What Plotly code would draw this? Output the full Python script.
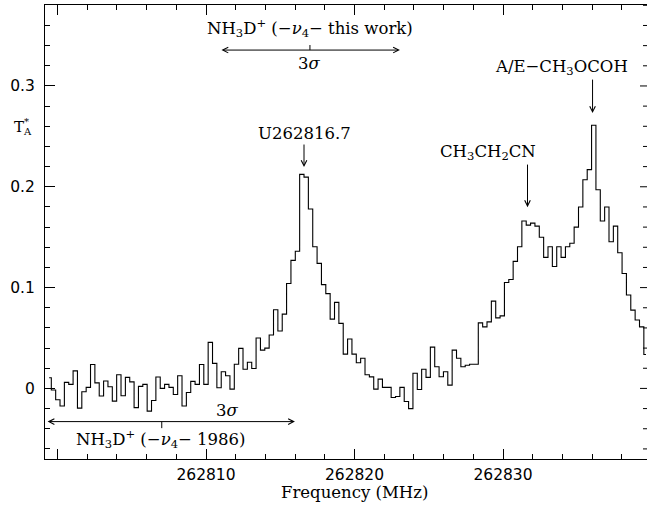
import numpy as np
import plotly.graph_objects as go

# ---------------- data ----------------
FREQ_FIRST_MHZ = 262799.436      # centre of first (partly visible) channel
CHANNEL_WIDTH_MHZ = 0.2934
TA = [
    0.0106, -0.0015, -0.0113, -0.0175, 0.0060, 0.0040, 0.0174, -0.0195, -0.0033, 0.0010,
    0.0238, 0.0055, -0.0075, 0.0073, 0.0017, -0.0126, 0.0135, -0.0073, 0.0110, 0.0065,
    -0.0190, 0.0020, 0.0040, -0.0225, -0.0120, 0.0113, 0.0000, 0.0040, 0.0010, -0.0060,
    0.0126, -0.0175, -0.0040, 0.0070, 0.0040, 0.0238, 0.0040, 0.0457, 0.0248, 0.0007,
    0.0165, 0.0125, -0.0007, 0.0240, 0.0397, 0.0190, 0.0260, 0.0198, 0.0500, 0.0380,
    0.0400, 0.0530, 0.0780, 0.0570, 0.0737, 0.1040, 0.1270, 0.1360, 0.2123, 0.2096,
    0.1780, 0.1405, 0.1240, 0.1030, 0.0940, 0.0687, 0.0853, 0.0645, 0.0340, 0.0490,
    0.0340, 0.0254, 0.0300, 0.0135, 0.0115, -0.0007, 0.0092, 0.0010, 0.0010, -0.0090,
    -0.0080, 0.0010, -0.0130, -0.0200, 0.0150, -0.0010, 0.0190, 0.0110, 0.0410, 0.0215,
    0.0116, 0.0165, 0.0033, 0.0380, 0.0300, 0.0215, 0.0230, 0.0240, 0.0240, 0.0650,
    0.0610, 0.0660, 0.0866, 0.0700, 0.0720, 0.1050, 0.1080, 0.1260, 0.1405, 0.1660,
    0.1620, 0.1640, 0.1610, 0.1500, 0.1300, 0.1405, 0.1210, 0.1405, 0.1300, 0.1405,
    0.1440, 0.1600, 0.1800, 0.2070, 0.2170, 0.2610, 0.1970, 0.1660, 0.1800, 0.1455,
    0.1610, 0.1346, 0.1140, 0.0926, 0.0777, 0.0678, 0.0610, 0.0337,
]
freq = FREQ_FIRST_MHZ + CHANNEL_WIDTH_MHZ * np.arange(len(TA))

X_TICK_VALUES = [262800, 262810, 262820, 262830]
X_TICK_LABELS = ["", "262810", "262820", "262830"]
Y_TICK_VALUES = [0, 0.1, 0.2, 0.3]
Y_TICK_LABELS = ["0", "0.1", "0.2", "0.3"]

LINE_LABELS = [
    "NH<sub>3</sub>D<sup>+</sup> (\u2212<i>\u03bd</i><sub>4</sub>\u2212 this work)",
    "3<i>\u03c3</i>",
    "U262816.7",
    "CH<sub>3</sub>CH<sub>2</sub>CN",
    "A/E\u2212CH<sub>3</sub>OCOH",
    "3<i>\u03c3</i>",
    "NH<sub>3</sub>D<sup>+</sup> (\u2212<i>\u03bd</i><sub>4</sub>\u2212 1986)",
]

# ---------------- layout / positions ----------------
W, H = 647, 507
ML, MR, MT, MB = 45, 0, 5, 48
X_RANGE = [262799.158, 262839.697]
Y_RANGE = [-0.0700, 0.3803]
Y_MINOR_STEP = 0.02

LABEL_POS = [
    (262817.00, 0.3570),
    (262816.94, 0.3227),
    (262816.63, 0.2533),
    (262828.96, 0.2344),
    (262833.97, 0.3188),
    (262811.45, -0.0215),
    (262806.97, -0.0503),
]
ARROWS = [  # (x, y_tail, y_tip)
    (262816.60, 0.2434, 0.2196),
    (262831.65, 0.2235, 0.1798),
    (262836.03, 0.3078, 0.2731),
]
DOUBLE_ARROWS = [  # (x_start, x_end, y)
    (262810.94, 262823.06, 0.3356),
    (262799.23, 262815.99, -0.0329),
]
CENTRE_TICKS = [  # (x, y0, y1)
    (262817.00, 0.3356, 0.3406),
    (262807.02, -0.0329, -0.0394),
]

SERIF = "DejaVu Serif"
SANS = "DejaVu Sans"
SERIF_SIZE = 16.5


def px_to_paper(px, py):
    return (px - ML) / (W - ML - MR), (H - MB - py) / (H - MT - MB)


fig = go.Figure()
fig.add_trace(go.Scatter(
    x=freq, y=TA, mode="lines",
    line=dict(shape="hvh", color="black", width=1.1),
    hoverinfo="skip", showlegend=False,
))

annotations = []
for text, (x, y) in zip(LINE_LABELS, LABEL_POS):
    annotations.append(dict(
        x=x, y=y, xref="x", yref="y", text=text, showarrow=False,
        xanchor="center", yanchor="middle",
        font=dict(family=SERIF, size=SERIF_SIZE, color="black"),
    ))
for x, y0, y1 in ARROWS:
    annotations.append(dict(
        x=x, y=y1, ax=x, ay=y0, xref="x", yref="y", axref="x", ayref="y",
        text="", showarrow=True, arrowhead=5, arrowsize=1.1, arrowwidth=1,
        arrowcolor="black", standoff=0,
    ))
for x0, x1, y in DOUBLE_ARROWS:
    annotations.append(dict(
        x=x1, y=y, ax=x0, ay=y, xref="x", yref="y", axref="x", ayref="y",
        text="", showarrow=True, arrowhead=5, startarrowhead=5,
        arrowside="end+start", arrowsize=1.1, startarrowsize=1.1, arrowwidth=1,
        arrowcolor="black", standoff=0, startstandoff=0,
    ))

# y-axis title T*_A built from pieces
for text, (px, py), size in [("T", (18.5, 127), 15), ("*", (26, 121), 10), ("A", (27.5, 131), 10)]:
    xp, yp = px_to_paper(px, py)
    annotations.append(dict(
        x=xp, y=yp, xref="paper", yref="paper", text=text, showarrow=False,
        xanchor="center", yanchor="middle",
        font=dict(family=SERIF, size=size, color="black"),
    ))
# x-axis title
xp, yp = px_to_paper(354, 492)
annotations.append(dict(
    x=xp, y=yp, xref="paper", yref="paper", text="Frequency (MHz)", showarrow=False,
    xanchor="center", yanchor="middle",
    font=dict(family=SERIF, size=SERIF_SIZE, color="black"),
))

shapes = []
for x, y0, y1 in CENTRE_TICKS:
    shapes.append(dict(type="line", xref="x", yref="y", x0=x, x1=x, y0=y0, y1=y1,
                       line=dict(color="black", width=1)))
# right-hand frame ticks (frame edge sits at the picture edge)
n_lo = int(np.ceil(Y_RANGE[0] / Y_MINOR_STEP))
n_hi = int(np.floor(Y_RANGE[1] / Y_MINOR_STEP))
for n in range(n_lo, n_hi + 1):
    v = n * Y_MINOR_STEP
    major = (n % 5 == 0)
    shapes.append(dict(type="line", xref="paper", yref="y", xsizemode="pixel", xanchor=1,
                       x0=-(7 if major else 4), x1=0, y0=v, y1=v,
                       line=dict(color="black", width=1)))

axis_common = dict(
    showline=True, linecolor="black", linewidth=1,
    ticks="inside", ticklen=10, tickwidth=1, tickcolor="black",
    showgrid=False, zeroline=False,
    tickfont=dict(family=SANS, size=15.5, color="black"),
)

fig.update_layout(
    width=W, height=H,
    margin=dict(l=ML, r=MR, t=MT, b=MB),
    paper_bgcolor="white", plot_bgcolor="white",
    xaxis=dict(range=X_RANGE, tickmode="array", tickvals=X_TICK_VALUES, ticktext=X_TICK_LABELS,
               mirror="allticks",
               minor=dict(dtick=2, tick0=262800, ticks="inside", ticklen=5, tickcolor="black", showgrid=False),
               ticklabelstandoff=1, **axis_common),
    yaxis=dict(range=Y_RANGE, tickmode="array", tickvals=Y_TICK_VALUES, ticktext=Y_TICK_LABELS,
               mirror=False,
               minor=dict(dtick=Y_MINOR_STEP, tick0=0, ticks="inside", ticklen=5, tickcolor="black", showgrid=False),
               ticklabelstandoff=6, **axis_common),
    annotations=annotations, shapes=shapes,
    showlegend=False,
)

fig.write_html(
    "out.html",
    config={"displayModeBar": False},
    post_script="document.body.style.margin='0px';document.body.style.overflow='hidden';",
)
